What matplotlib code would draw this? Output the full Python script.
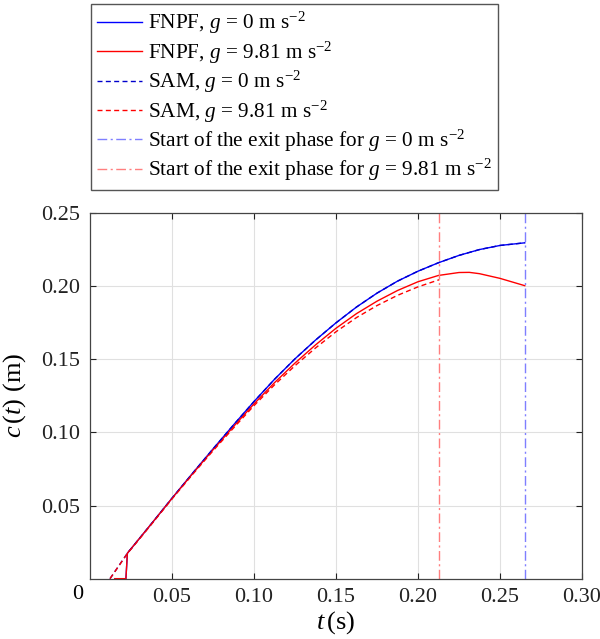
import matplotlib
matplotlib.use("Agg")
import matplotlib.pyplot as plt

plt.rcParams["font.family"] = ["Liberation Serif", "DejaVu Serif"]
plt.rcParams["mathtext.fontset"] = "custom"
plt.rcParams["mathtext.rm"] = "Liberation Serif"
plt.rcParams["mathtext.it"] = "Liberation Serif:italic"

# FNPF, g = 0
t_fnpf0 = [0.0152, 0.0219, 0.0228, 0.0375, 0.05, 0.0625, 0.075, 0.0875, 0.10, 0.1125,
           0.125, 0.1375, 0.15, 0.1625, 0.175, 0.1875, 0.20, 0.2125, 0.225, 0.2375,
           0.25, 0.2651]
c_fnpf0 = [0.0, 0.0, 0.0174, 0.0376, 0.0550, 0.0720, 0.0887, 0.1051, 0.1211, 0.1363,
           0.1503, 0.1631, 0.1749, 0.1857, 0.1952, 0.2034, 0.2102, 0.2160, 0.2210, 0.2250,
           0.2278, 0.2296]

# FNPF, g = 9.81
t_fnpf1 = [0.0152, 0.0219, 0.0228, 0.0375, 0.05, 0.0625, 0.075, 0.0875, 0.10, 0.1125,
           0.125, 0.1375, 0.15, 0.1625, 0.175, 0.1875, 0.20, 0.2125, 0.225, 0.2313,
           0.2375, 0.25, 0.2651]
c_fnpf1 = [0.0, 0.0, 0.0174, 0.0376, 0.0549, 0.0717, 0.0881, 0.1040, 0.1195, 0.1340,
           0.1474, 0.1598, 0.1712, 0.1812, 0.1897, 0.1970, 0.2030, 0.2073, 0.2093, 0.2094,
           0.2085, 0.2053, 0.2003]

# SAM, g = 0
t_sam0 = [0.0122, 0.0228, 0.0375, 0.05, 0.0625, 0.075, 0.0875, 0.10, 0.1125,
          0.125, 0.1375, 0.15, 0.1625, 0.175, 0.1875, 0.20, 0.2125, 0.225, 0.2375,
          0.25, 0.2651]
c_sam0 = [0.0, 0.0174, 0.0376, 0.0550, 0.0720, 0.0887, 0.1051, 0.1211, 0.1363,
          0.1503, 0.1631, 0.1749, 0.1857, 0.1952, 0.2034, 0.2102, 0.2160, 0.2210, 0.2250,
          0.2278, 0.2296]

# SAM, g = 9.81
t_sam1 = [0.0122, 0.0228, 0.0375, 0.05, 0.0625, 0.075, 0.0875, 0.10, 0.1125,
          0.125, 0.1375, 0.15, 0.1625, 0.175, 0.1875, 0.20, 0.2130]
c_sam1 = [0.0, 0.0172, 0.0372, 0.0545, 0.0712, 0.0874, 0.1030, 0.1183, 0.1325,
          0.1456, 0.1577, 0.1688, 0.1785, 0.1867, 0.1937, 0.1995, 0.2044]

# debut de la phase de sortie
t_exit0 = 0.2651
t_exit1 = 0.2130

xticks = [0.05, 0.10, 0.15, 0.20, 0.25, 0.30]
yticks = [0.05, 0.10, 0.15, 0.20, 0.25]

fig = plt.figure(figsize=(6.0, 6.39), dpi=100)
ax = fig.add_axes([0.15, 0.0944, 0.82, 0.5723])

dash = (0, (3.6, 2.4))
dashdot = (0, (7, 2.5, 1.5, 2.5))

ax.plot(t_fnpf0, c_fnpf0, color="#0000ff", lw=1.0,
        label=r"FNPF, $g$ = 0 m s$^{-2}$")
ax.plot(t_fnpf1, c_fnpf1, color="#ff0000", lw=1.0,
        label=r"FNPF, $g$ = 9.81 m s$^{-2}$")
ax.plot(t_sam0, c_sam0, color="#0000cc", lw=1.0, linestyle=dash,
        label=r"SAM, $g$ = 0 m s$^{-2}$")
ax.plot(t_sam1, c_sam1, color="#ff0000", lw=1.0, linestyle=dash,
        label=r"SAM, $g$ = 9.81 m s$^{-2}$")
ax.axvline(t_exit0, color="#7f7fff", lw=1.0, linestyle=dashdot,
           label=r"Start of the exit phase for $g$ = 0 m s$^{-2}$")
ax.axvline(t_exit1, color="#ff7f7f", lw=1.0, linestyle=dashdot,
           label=r"Start of the exit phase for $g$ = 9.81 m s$^{-2}$")

ax.set_xlim(0, 0.30)
ax.set_ylim(0, 0.25)
ax.set_xticks(xticks)
ax.set_xticklabels(["%.2f" % v for v in xticks])
ax.set_yticks(yticks)
ax.set_yticklabels(["%.2f" % v for v in yticks])
ax.grid(True, color="#e0e0e0", lw=0.8)
ax.set_axisbelow(True)
ax.tick_params(direction="in", length=4, width=0.8, top=True, right=True,
               labelsize=16, pad=7, colors="#222222")
for s in ax.spines.values():
    s.set_color("#444444")
    s.set_linewidth(0.9)

# le zero commun au coin
fig.text(0.13, 0.0704, "0", fontsize=16, ha="center", va="center")

ax.set_xlabel(r"$t\,$(s)", fontsize=19)
ax.set_ylabel(r"$c\,(t)$ (m)", fontsize=19)
ax.xaxis.set_label_coords(0.5, -0.083)
ax.yaxis.set_label_coords(-0.125, 0.5)

leg = fig.legend(loc="upper left", bbox_to_anchor=(0.151, 0.994), fontsize=15.3,
                 handlelength=2.1, handletextpad=0.3, labelspacing=0.15,
                 borderaxespad=0, borderpad=0.3, fancybox=False, framealpha=1)
leg.get_frame().set_edgecolor("#555555")
leg.get_frame().set_linewidth(1.0)

fig.savefig("out.png", dpi=100)
